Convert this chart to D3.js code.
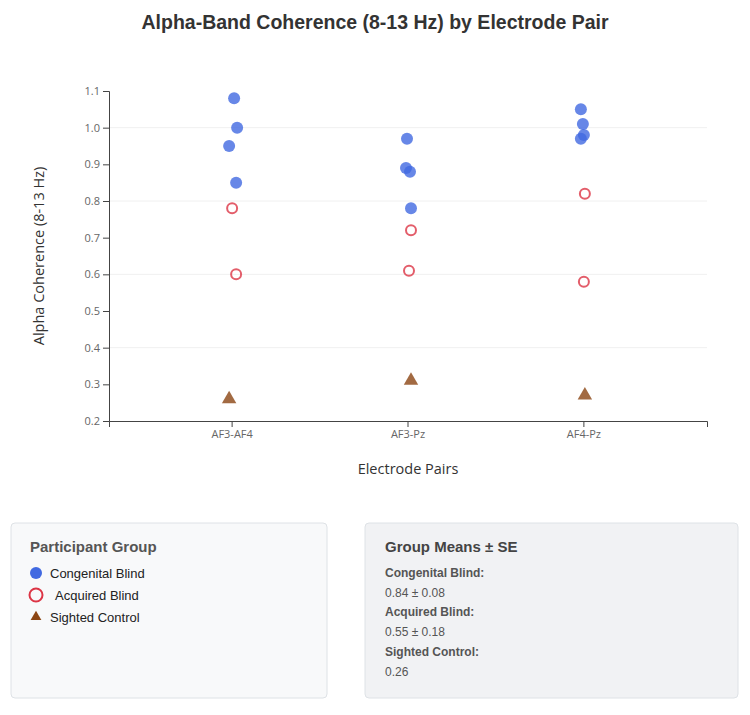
<!DOCTYPE html>
<html>
<head>
<meta charset="utf-8">
<script src="https://cdn.jsdelivr.net/npm/d3@7"></script>
<style>
  body { margin: 0; background: #fff; font-family: "Liberation Sans", Arial, sans-serif; }
  .tick text { font-family: "Open Sans", sans-serif; font-size: 11px; fill: #666; }
  .axis path, .axis line { stroke: #444; }
</style>
</head>
<body>
<div id="chart"></div>
<script>
// Electrode pairs and group data
const pairs = ['AF3-AF4', 'AF3-Pz', 'AF4-Pz'];
const groups = ['Congenital Blind', 'Acquired Blind', 'Sighted Control'];

const congenital = {
    'AF3-AF4': [1.08, 1.00, 0.95, 0.85],
    'AF3-Pz': [0.97, 0.89, 0.88, 0.78],
    'AF4-Pz': [1.05, 1.01, 0.98, 0.97]
};
const acquired = {
    'AF3-AF4': [0.78, 0.60],
    'AF3-Pz': [0.72, 0.61],
    'AF4-Pz': [0.82, 0.58]
};
const sighted = {
    'AF3-AF4': [0.26],
    'AF3-Pz': [0.31],
    'AF4-Pz': [0.27]
};
// horizontal jitter used by the original (px)
const jitterCongenital = {
    'AF3-AF4': [2, 5, -3, 4],
    'AF3-Pz': [-1, -2, 2, 3],
    'AF4-Pz': [-3, -1, 0, -3]
};
const jitterAcquired = {
    'AF3-AF4': [0, 4],
    'AF3-Pz': [3, 1],
    'AF4-Pz': [1, 0]
};
const jitterSighted = {
    'AF3-AF4': [-3],
    'AF3-Pz': [3],
    'AF4-Pz': [1]
};

const yTicks = [0.2, 0.3, 0.4, 0.5, 0.6, 0.7, 0.8, 0.9, 1.0, 1.1];
const gridTicks = [0.4, 0.6, 0.8, 1.0];
const meanLabels = ['0.84 ± 0.08', '0.55 ± 0.18', '0.26'];

const colors = { blue: '#4169E1', red: '#DC3545', brown: '#8B4513' };

const width = 750;
const height = 715;
const margin = { top: 91, right: 43, bottom: 294, left: 109 };

const svg = d3.select('#chart').append('svg')
    .attr('width', width)
    .attr('height', height);

// Title
svg.append('text')
    .attr('x', width / 2)
    .attr('y', 29)
    .attr('text-anchor', 'middle')
    .style('font-size', '19.5px')
    .style('font-weight', 'bold')
    .style('fill', '#333')
    .text('Alpha-Band Coherence (8-13 Hz) by Electrode Pair');

const xScale = d3.scaleBand()
    .domain(pairs)
    .range([margin.left, width - margin.right])
    .padding(0.4);

const yScale = d3.scaleLinear()
    .domain([0.2, 1.1])
    .range([height - margin.bottom, margin.top]);

const xc = p => xScale(p) + xScale.bandwidth() / 2;

// Grid
svg.append('g')
    .selectAll('line')
    .data(gridTicks)
    .enter().append('line')
    .attr('x1', margin.left)
    .attr('x2', width - margin.right)
    .attr('y1', d => yScale(d))
    .attr('y2', d => yScale(d))
    .attr('stroke', '#f0f0f0')
    .attr('stroke-width', 1);

// Axes
svg.append('g')
    .attr('class', 'axis')
    .attr('transform', `translate(0, ${height - margin.bottom})`)
    .call(d3.axisBottom(xScale).tickSizeOuter(6));

svg.append('g')
    .attr('class', 'axis')
    .attr('transform', `translate(${margin.left}, 0)`)
    .call(d3.axisLeft(yScale).tickValues(yTicks).tickFormat(d3.format('.1f')));

svg.selectAll('.axis path, .axis line').attr('stroke', '#444');

// Axis titles
svg.append('text')
    .attr('transform', 'rotate(-90)')
    .attr('x', -(margin.top + (height - margin.bottom)) / 2)
    .attr('y', 44)
    .attr('text-anchor', 'middle')
    .style('font-family', '"Open Sans", sans-serif')
    .style('font-size', '14.5px')
    .style('fill', '#333')
    .text('Alpha Coherence (8-13 Hz)');

svg.append('text')
    .attr('x', (margin.left + width - margin.right) / 2)
    .attr('y', 474)
    .attr('text-anchor', 'middle')
    .style('font-family', '"Open Sans", sans-serif')
    .style('font-size', '14.5px')
    .style('fill', '#333')
    .text('Electrode Pairs');

// Flatten the points
const flat = (obj, jit) => pairs.flatMap(p => obj[p].map((v, i) => ({ pair: p, value: v, dx: jit[p][i] })));

svg.append('g').selectAll('circle')
    .data(flat(congenital, jitterCongenital))
    .enter().append('circle')
    .attr('cx', d => xc(d.pair) + d.dx)
    .attr('cy', d => yScale(d.value))
    .attr('r', 6)
    .attr('fill', colors.blue)
    .attr('opacity', 0.8);

svg.append('g').selectAll('circle')
    .data(flat(acquired, jitterAcquired))
    .enter().append('circle')
    .attr('cx', d => xc(d.pair) + d.dx)
    .attr('cy', d => yScale(d.value))
    .attr('r', 5)
    .attr('fill', 'none')
    .attr('stroke', colors.red)
    .attr('stroke-width', 2)
    .attr('opacity', 0.8);

const tri = d3.symbol().type(d3.symbolTriangle).size(90);
svg.append('g').selectAll('path')
    .data(flat(sighted, jitterSighted))
    .enter().append('path')
    .attr('d', tri)
    .attr('transform', d => `translate(${xc(d.pair) + d.dx}, ${yScale(d.value)})`)
    .attr('fill', colors.brown)
    .attr('opacity', 0.8);

// Legend box
const legend = svg.append('g').attr('transform', 'translate(11, 523)');
legend.append('rect')
    .attr('width', 316).attr('height', 175).attr('rx', 4)
    .attr('fill', '#f8f9fa').attr('stroke', '#dee2e6');
legend.append('text')
    .attr('x', 19).attr('y', 29)
    .style('font-size', '15px').style('font-weight', 'bold').style('fill', '#555')
    .text('Participant Group');

const legendItems = legend.selectAll('.item')
    .data(groups)
    .enter().append('g')
    .attr('class', 'item')
    .attr('transform', (d, i) => `translate(25, ${50 + i * 22})`);

legendItems.each(function(d, i) {
    const g = d3.select(this);
    if (i === 0) {
        g.append('circle').attr('r', 6).attr('fill', colors.blue);
    } else if (i === 1) {
        g.append('circle').attr('r', 6.5).attr('fill', 'none')
            .attr('stroke', colors.red).attr('stroke-width', 2);
    } else {
        g.append('path').attr('d', d3.symbol().type(d3.symbolTriangle).size(50)())
            .attr('fill', colors.brown);
    }
    g.append('text')
        .attr('x', i === 1 ? 19 : 14).attr('y', 4.5)
        .style('font-size', '13px').style('fill', '#222')
        .text(d);
});

// Means box
const means = svg.append('g').attr('transform', 'translate(365, 523)');
means.append('rect')
    .attr('width', 373).attr('height', 175).attr('rx', 4)
    .attr('fill', '#f1f2f4').attr('stroke', '#dee2e6');
means.append('text')
    .attr('x', 20).attr('y', 29)
    .style('font-size', '15px').style('font-weight', 'bold').style('fill', '#444')
    .text('Group Means ± SE');

groups.forEach((g, i) => {
    means.append('text')
        .attr('x', 20).attr('y', 54 + i * 39.3)
        .style('font-size', '12px').style('font-weight', 'bold').style('fill', '#555')
        .text(g + ':');
    means.append('text')
        .attr('x', 20).attr('y', 74 + i * 39.3)
        .style('font-size', '12px').style('fill', '#555')
        .text(meanLabels[i]);
});
</script>
</body>
</html>
